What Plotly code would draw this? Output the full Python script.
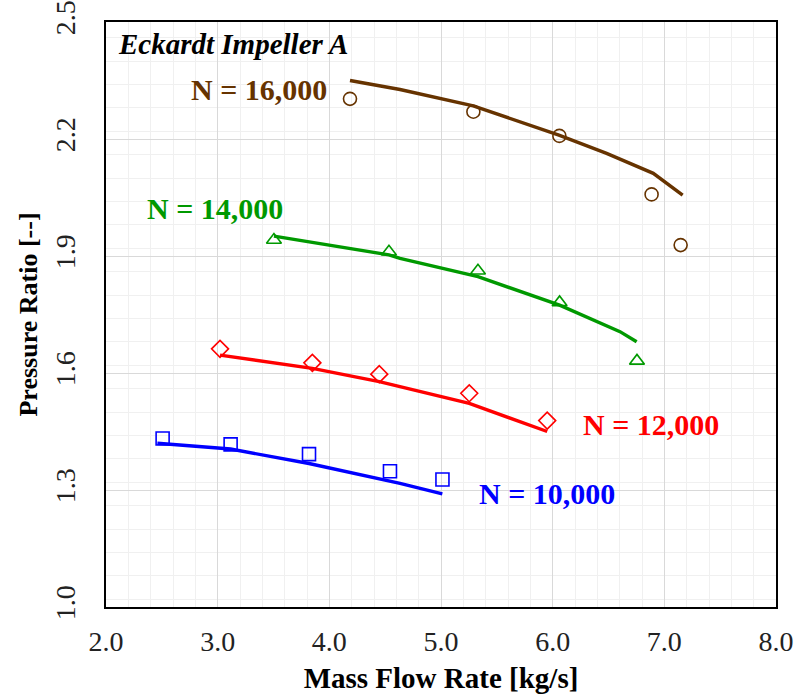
import plotly.graph_objects as go

# Experimental points
exp_x_10 = [2.507, 3.116, 3.818, 4.543, 5.013]
exp_y_10 = [1.432, 1.417, 1.392, 1.348, 1.327]
exp_x_12 = [3.021, 3.848, 4.447, 5.253, 5.951]
exp_y_12 = [1.662, 1.626, 1.597, 1.548, 1.478]
exp_x_14 = [3.504, 4.534, 5.331, 6.062, 6.755]
exp_y_14 = [1.941, 1.911, 1.862, 1.781, 1.631]
exp_x_16 = [4.185, 5.290, 6.060, 6.886, 7.146]
exp_y_16 = [2.303, 2.270, 2.208, 2.058, 1.928]

# Simulation lines
sim_x_10 = [2.460, 3.116, 3.818, 4.543, 4.633, 5.012]
sim_y_10 = [1.420, 1.405, 1.368, 1.321, 1.317, 1.290]
sim_x_12 = [3.021, 3.848, 4.447, 4.633, 5.253, 5.951]
sim_y_12 = [1.646, 1.612, 1.578, 1.565, 1.522, 1.450]
sim_x_14 = [3.504, 4.534, 4.633, 5.331, 6.062, 6.603, 6.752]
sim_y_14 = [1.951, 1.903, 1.894, 1.847, 1.774, 1.706, 1.680]
sim_x_16 = [4.185, 4.633, 5.289, 6.056, 6.483, 6.901, 7.164]
sim_y_16 = [2.350, 2.327, 2.285, 2.210, 2.163, 2.112, 2.056]

colors = {"10": "#0000FF", "12": "#FF0000", "14": "#009900", "16": "#663300"}
symbols = {"10": "square-open", "12": "diamond-open", "14": "triangle-up-open", "16": "circle-open"}

series = {
    "10": (exp_x_10, exp_y_10, sim_x_10, sim_y_10),
    "12": (exp_x_12, exp_y_12, sim_x_12, sim_y_12),
    "14": (exp_x_14, exp_y_14, sim_x_14, sim_y_14),
    "16": (exp_x_16, exp_y_16, sim_x_16, sim_y_16),
}

fig = go.Figure()
for k, (ex, ey, sx, sy) in series.items():
    fig.add_trace(go.Scatter(x=sx, y=sy, mode="lines",
                             line=dict(color=colors[k], width=3.4), showlegend=False))
    fig.add_trace(go.Scatter(x=ex, y=ey, mode="markers",
                             marker=dict(symbol=symbols[k], size=13, color=colors[k],
                                         line=dict(width=1.6, color=colors[k])),
                             showlegend=False))

font_family = "Liberation Serif"
labels = [
    ("N = 16,000", 3.37, 2.326, colors["16"]),
    ("N = 14,000", 2.972, 2.023, colors["14"]),
    ("N = 12,000", 6.885, 1.469, colors["12"]),
    ("N = 10,000", 5.945, 1.290, colors["10"]),
]
for txt, x, y, c in labels:
    fig.add_annotation(x=x, y=y, xref="x", yref="y", text="<b>" + txt + "</b>",
                       showarrow=False, font=dict(family=font_family, size=30, color=c),
                       xanchor="center", yanchor="middle")

fig.add_annotation(x=2.09, y=2.444, xref="x", yref="y", text="<b><i>Eckardt Impeller A</i></b>",
                   showarrow=False, font=dict(family=font_family, size=29, color="black"),
                   xanchor="left", yanchor="middle")

axis_common = dict(showline=True, linecolor="black", linewidth=2, mirror=True,
                   ticks="", zeroline=False, gridcolor="#d9d9d9", gridwidth=1,
                   automargin=False, ticklabeloverflow="allow",
                   tickfont=dict(family=font_family, size=28, color="#222222"))

fig.update_xaxes(range=[2, 8], dtick=1, tick0=2, tickformat=".1f", ticklabelstandoff=8,
                 minor=dict(dtick=0.2, showgrid=True, gridcolor="#f0f0f0", gridwidth=1),
                 title=dict(text="<b>Mass Flow Rate [kg/s]</b>", standoff=12,
                            font=dict(family=font_family, size=29, color="black")),
                 **axis_common)
fig.update_yaxes(range=[1, 2.5], dtick=0.3, tick0=1, tickformat=".1f", tickangle=-90,
                 ticklabelstandoff=18,
                 minor=dict(dtick=0.06, showgrid=True, gridcolor="#f0f0f0", gridwidth=1),
                 title=dict(text="<b>Pressure Ratio [--]</b>", standoff=5,
                            font=dict(family=font_family, size=26, color="black")),
                 **axis_common)

fig.update_layout(width=796, height=698, margin=dict(l=106, r=20, t=22, b=91),
                  plot_bgcolor="white", paper_bgcolor="white")

fig.write_html("out.html", config={"displayModeBar": False},
               post_script="document.body.style.margin='0';document.body.style.overflow='hidden';")
